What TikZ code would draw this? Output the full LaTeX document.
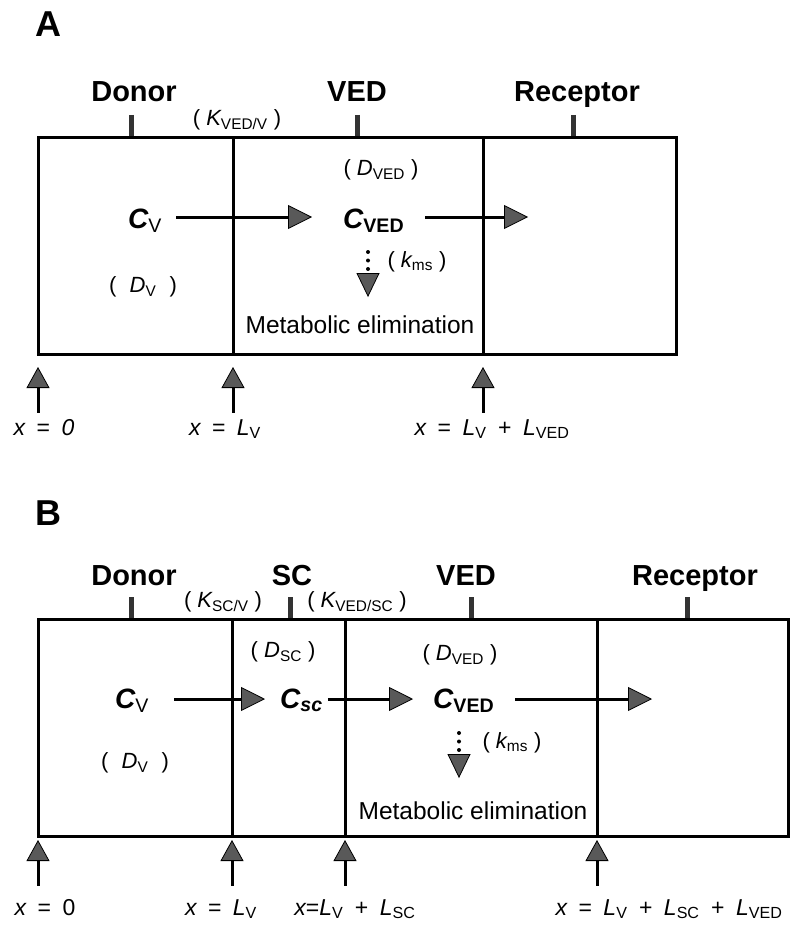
\documentclass[tikz,border=0pt]{standalone}
\usepackage{fontspec}
\setmainfont{Liberation Sans}
\newfontfamily\locusfont[WordSpace=1.8]{Liberation Sans}
\usetikzlibrary{arrows.meta}

\begin{document}
\begin{tikzpicture}[x=1pt, y=-1pt,
	panel/.style={font=\fontsize{36}{40}\selectfont\bfseries, inner sep=0pt},
	layer/.style={font=\fontsize{29}{34}\selectfont\bfseries, inner sep=0pt},
	conc/.style={font=\fontsize{28}{33}\selectfont\bfseries, inner sep=0pt},
	param/.style={font=\fontsize{22}{26}\selectfont, inner sep=0pt},
	note/.style={font=\fontsize{24.5}{29}\selectfont, inner sep=0pt},
	locus/.style={font=\locusfont\fontsize{23}{27}\selectfont, inner sep=0pt},
	wall/.style={line width=3pt},
	tab/.style={line width=5pt, black!80},
	flow/.style={line width=3pt, -{Triangle[length=24pt, width=24pt, fill=black!65, line width=0.8pt]}},
	rise/.style={line width=3pt, -{Triangle[length=21pt, width=23pt, fill=black!65, line width=0.8pt]}},
	elim/.style={line width=4pt, line cap=round, dash pattern=on 0pt off 8.5pt, -{Triangle[length=24pt, width=23pt, fill=black!65, line width=0.8pt]}}]
		
		\useasboundingbox (0,0) rectangle (792,928);
		
		% Panel A: Donor | VED | Receptor
		\node[panel, anchor=base west] (pA) at (35,37) {A};
		
		\node[layer, anchor=base] (donorA) at (134,102) {Donor};
		\node[layer, anchor=base] (vedA) at (357,102) {VED};
		\node[layer, anchor=base] (recA) at (577,102) {Receptor};
		\draw[tab] (131,115) -- (131,138);
		\draw[tab] (357,115) -- (357,138);
		\draw[tab] (573,115) -- (573,138);
		
		\draw[wall] (38,138) rectangle (676,354);
		\draw[wall] (233,138) -- (233,354);
		\draw[wall] (483,138) -- (483,354);
		\coordinate (a0) at (38,354);
		\coordinate (a1) at (233,354);
		\coordinate (a2) at (483,354);
		
		\node[param] (kA) at (237,120) {( {\itshape K}\textsubscript{VED/V} )};
		\node[param] (dvedA) at (381,170) {( {\itshape D}\textsubscript{VED} )};
		\node[param] (dvA) at (143,287) {(\hspace{0.6em}{\itshape D}\textsubscript{V}\hspace{0.6em})};
		\node[param] (kmsA) at (417,262) {( {\itshape k}\textsubscript{ms} )};
		
		\node[conc, anchor=base west] (cvA) at (128,228) {{\itshape C}\textsubscript{\mdseries V}};
		\node[conc, anchor=base west] (cvedA) at (343,228) {{\itshape C}\textsubscript{VED}};
		\coordinate (outA) at (528,217);
		\draw[flow] ([shift={(14,-11)}]cvA.base east) -- ([shift={(-31,-11)}]cvedA.base west);
		\draw[flow] ([shift={(21,-11)}]cvedA.base east) -- (outA);
		
		\node[note, anchor=base] (metA) at (360,333) {Metabolic elimination};
		\coordinate (dotA) at (368,252);
		\draw[elim, shorten >=18pt] (dotA) -- (dotA |- metA.north);
		
		% Positions A
		\node[locus, anchor=base] (x0A) at (44,435) {{\itshape x} = {\itshape 0}};
		\node[locus, anchor=base] (x1A) at (225,435) {{\itshape x} = {\itshape L}\textsubscript{V}};
		\node[locus, anchor=base] (x2A) at (492,435) {{\itshape x} = {\itshape L}\textsubscript{V} + {\itshape L}\textsubscript{VED}};
		\draw[rise, shorten <=6pt, shorten >=13pt] (a0 |- x0A.north) -- (a0);
		\draw[rise, shorten <=6pt, shorten >=13pt] (a1 |- x1A.north) -- (a1);
		\draw[rise, shorten <=6pt, shorten >=13pt] (a2 |- x2A.north) -- (a2);
		
		% Panel B: Donor | SC | VED | Receptor
		\node[panel, anchor=base west] (pB) at (35,525) {B};
		
		\node[layer, anchor=base] (donorB) at (134,585) {Donor};
		\node[layer, anchor=base] (scB) at (292,585) {SC};
		\node[layer, anchor=base] (vedB) at (466,585) {VED};
		\node[layer, anchor=base] (recB) at (695,585) {Receptor};
		\draw[tab] (131,597) -- (131,619);
		\draw[tab] (290,597) -- (290,619);
		\draw[tab] (471,597) -- (471,619);
		\draw[tab] (687,597) -- (687,619);
		
		\draw[wall] (38,619) rectangle (788,836);
		\draw[wall] (232,619) -- (232,836);
		\draw[wall] (345,619) -- (345,836);
		\draw[wall] (597,619) -- (597,836);
		\coordinate (b0) at (38,836);
		\coordinate (b1) at (232,836);
		\coordinate (b2) at (345,836);
		\coordinate (b3) at (597,836);
		
		\node[param] (kscB) at (223,602) {( {\itshape K}\textsubscript{SC/V} )};
		\node[param] (kvscB) at (357,602) {( {\itshape K}\textsubscript{VED/SC} )};
		\node[param] (dscB) at (283,652) {( {\itshape D}\textsubscript{SC} )};
		\node[param] (dvedB) at (460,655) {( {\itshape D}\textsubscript{VED} )};
		\node[param] (dvB) at (135,763) {(\hspace{0.6em}{\itshape D}\textsubscript{V}\hspace{0.6em})};
		\node[param] (kmsB) at (512,743) {( {\itshape k}\textsubscript{ms} )};
		
		\node[conc, anchor=base west] (cvB) at (115,708) {{\itshape C}\textsubscript{\mdseries V}};
		\node[conc, anchor=base west] (cscB) at (280,708) {{\itshape C\textsubscript{sc}}};
		\node[conc, anchor=base west] (cvedB) at (433,708) {{\itshape C}\textsubscript{VED}};
		\coordinate (outB) at (652,699);
		\draw[flow] ([shift={(25,-9)}]cvB.base east) -- ([shift={(-15,-9)}]cscB.base west);
		\draw[flow] ([shift={(5,-9)}]cscB.base east) -- ([shift={(-20,-9)}]cvedB.base west);
		\draw[flow] ([shift={(21,-9)}]cvedB.base east) -- (outB);
		
		\node[note, anchor=base] (metB) at (473,819) {Metabolic elimination};
		\coordinate (dotB) at (459,733);
		\draw[elim, shorten >=23pt] (dotB) -- (dotB |- metB.north);
		
		% Positions B
		\node[locus, anchor=base] (x0B) at (45,915) {{\itshape x} = 0};
		\node[locus, anchor=base] (x1B) at (221,915) {{\itshape x} = {\itshape L}\textsubscript{V}};
		\node[locus, anchor=base] (x2B) at (355,915) {{\itshape x}={\itshape L}\textsubscript{V} + {\itshape L}\textsubscript{SC}};
		\node[locus, anchor=base] (x3B) at (669,915) {{\itshape x} = {\itshape L}\textsubscript{V} + {\itshape L}\textsubscript{SC} + {\itshape L}\textsubscript{VED}};
		\draw[rise, shorten <=13pt, shorten >=4pt] (b0 |- x0B.north) -- (b0);
		\draw[rise, shorten <=13pt, shorten >=4pt] (b1 |- x1B.north) -- (b1);
		\draw[rise, shorten <=13pt, shorten >=4pt] (b2 |- x2B.north) -- (b2);
		\draw[rise, shorten <=13pt, shorten >=4pt] (b3 |- x3B.north) -- (b3);
		
	\end{tikzpicture}
\end{document}
